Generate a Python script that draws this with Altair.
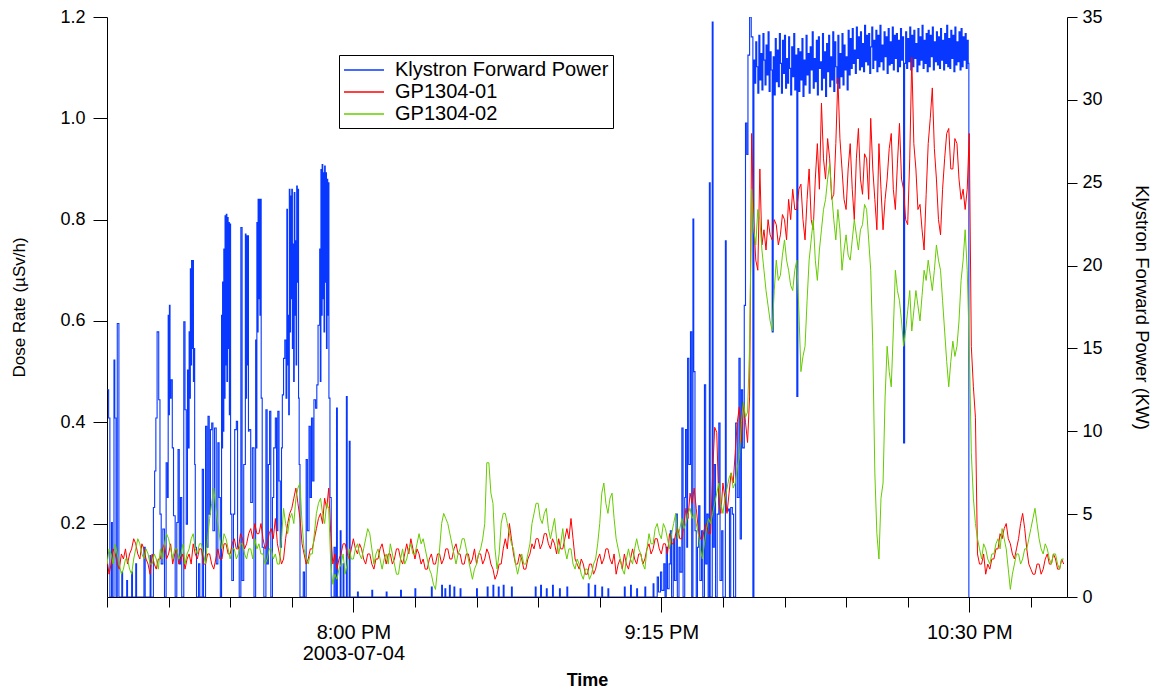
import altair as alt
import pandas as pd

# ---------------- data (time = minutes after 7:00 PM, 2003-07-04) ----------------
SERIES = ["Klystron Forward Power", "GP1304-01", "GP1304-02"]
COLORS = ["#0838FF", "#FF0000", "#66CC00"]

# dose-rate readings every half minute, 0 .. 233 min
DOSE_STEP = 0.5

gp01 = [
    0.13, 0.10, 0.12, 0.15, 0.14, 0.12, 0.11, 0.14, 0.13, 0.15, 0.12, 0.14, 0.15, 0.17, 0.16, 0.14, 0.13, 0.16, 0.15, 0.13,
    0.12, 0.10, 0.14, 0.12, 0.11, 0.13, 0.13, 0.15, 0.16, 0.13, 0.14, 0.16, 0.12, 0.14, 0.15, 0.12, 0.13, 0.14, 0.11, 0.13,
    0.14, 0.12, 0.16, 0.14, 0.13, 0.15, 0.15, 0.12, 0.12, 0.14, 0.14, 0.12, 0.11, 0.13, 0.15, 0.13, 0.13, 0.16, 0.16, 0.14,
    0.14, 0.16, 0.17, 0.15, 0.15, 0.18, 0.17, 0.15, 0.16, 0.18, 0.19, 0.17, 0.20, 0.18, 0.18, 0.20, 0.17, 0.15, 0.16, 0.18,
    0.19, 0.17, 0.21, 0.16, 0.14, 0.12, 0.13, 0.17, 0.20, 0.22, 0.23, 0.25, 0.27, 0.24, 0.21, 0.16, 0.14, 0.12, 0.13, 0.15,
    0.15, 0.17, 0.19, 0.21, 0.22, 0.20, 0.25, 0.23, 0.27, 0.18, 0.12, 0.14, 0.11, 0.13, 0.14, 0.16, 0.16, 0.14, 0.13, 0.15,
    0.17, 0.15, 0.14, 0.16, 0.15, 0.13, 0.12, 0.14, 0.14, 0.12, 0.11, 0.13, 0.13, 0.15, 0.16, 0.14, 0.12, 0.14, 0.14, 0.12,
    0.13, 0.15, 0.15, 0.13, 0.12, 0.14, 0.16, 0.14, 0.17, 0.15, 0.13, 0.15, 0.14, 0.12, 0.13, 0.11, 0.11, 0.13, 0.14, 0.12,
    0.12, 0.14, 0.14, 0.12, 0.13, 0.15, 0.15, 0.13, 0.13, 0.15, 0.16, 0.14, 0.14, 0.12, 0.12, 0.14, 0.14, 0.12, 0.13, 0.15,
    0.12, 0.14, 0.14, 0.12, 0.13, 0.15, 0.14, 0.12, 0.11, 0.09, 0.10, 0.12, 0.12, 0.15, 0.17, 0.15, 0.20, 0.17, 0.14, 0.12,
    0.12, 0.14, 0.13, 0.11, 0.11, 0.13, 0.14, 0.16, 0.15, 0.17, 0.17, 0.15, 0.16, 0.18, 0.18, 0.16, 0.15, 0.17, 0.16, 0.14,
    0.17, 0.15, 0.15, 0.17, 0.19, 0.17, 0.21, 0.17, 0.13, 0.12, 0.11, 0.13, 0.12, 0.10, 0.10, 0.12, 0.12, 0.10, 0.11, 0.13,
    0.14, 0.12, 0.13, 0.15, 0.15, 0.13, 0.12, 0.14, 0.10, 0.12, 0.13, 0.11, 0.14, 0.12, 0.11, 0.13, 0.15, 0.13, 0.12, 0.14,
    0.14, 0.12, 0.13, 0.15, 0.16, 0.14, 0.15, 0.17, 0.17, 0.15, 0.14, 0.16, 0.16, 0.14, 0.18, 0.16, 0.16, 0.18, 0.19, 0.17,
    0.17, 0.20, 0.23, 0.21, 0.26, 0.24, 0.27, 0.23, 0.19, 0.17, 0.17, 0.19, 0.20, 0.18, 0.18, 0.30, 0.39, 0.38, 0.24, 0.22,
    0.28, 0.25, 0.22, 0.26, 0.30, 0.28, 0.34, 0.40, 0.43, 0.36, 0.44, 0.40, 0.36, 0.45, 0.97, 0.80, 0.72, 0.70, 0.90, 0.75,
    0.78, 0.74, 0.80, 0.77, 0.76, 0.80, 0.79, 0.75, 0.77, 0.81, 0.80, 0.76, 0.84, 0.80, 0.86, 0.82, 0.82, 0.86, 0.87, 0.80,
    0.76, 0.84, 0.90, 0.80, 0.78, 0.88, 0.95, 0.86, 1.03, 0.92, 0.88, 0.96, 0.92, 0.84, 0.85, 0.95, 1.08, 0.96, 0.90, 0.84,
    0.82, 0.90, 0.95, 0.86, 0.80, 0.92, 0.98, 0.88, 0.85, 0.93, 0.92, 0.84, 1.00, 0.90, 0.84, 0.78, 0.95, 0.86, 0.78, 0.84,
    0.88, 0.94, 0.97, 0.86, 0.82, 0.91, 0.99, 0.88, 0.86, 0.80, 0.79, 0.92, 1.12, 0.95, 0.90, 0.82, 0.83, 0.78, 0.74, 0.85,
    0.95, 1.00, 1.06, 0.94, 0.88, 0.80, 0.77, 0.86, 0.92, 0.97, 0.98, 0.90, 0.90, 0.96, 0.95, 0.88, 0.84, 0.86, 0.82, 0.86,
    0.97, 0.55, 0.47, 0.41, 0.14, 0.12, 0.12, 0.14, 0.10, 0.12, 0.11, 0.13, 0.13, 0.15, 0.15, 0.18, 0.17, 0.19, 0.20, 0.17,
    0.16, 0.14, 0.13, 0.15, 0.17, 0.20, 0.22, 0.19, 0.15, 0.12, 0.11, 0.10, 0.10, 0.12, 0.12, 0.10, 0.11, 0.13, 0.14, 0.12,
    0.12, 0.14, 0.13, 0.11, 0.11, 0.13, 0.12,
]

gp02 = [
    0.12, 0.15, 0.14, 0.12, 0.16, 0.14, 0.12, 0.10, 0.11, 0.13, 0.13, 0.11, 0.10, 0.13, 0.15, 0.17, 0.16, 0.14, 0.13, 0.15,
    0.14, 0.12, 0.12, 0.14, 0.13, 0.11, 0.15, 0.13, 0.16, 0.18, 0.17, 0.15, 0.13, 0.15, 0.15, 0.13, 0.14, 0.16, 0.12, 0.14,
    0.15, 0.17, 0.18, 0.15, 0.14, 0.16, 0.16, 0.14, 0.12, 0.17, 0.21, 0.24, 0.27, 0.23, 0.20, 0.17, 0.15, 0.18, 0.17, 0.15,
    0.13, 0.15, 0.15, 0.13, 0.14, 0.16, 0.16, 0.14, 0.13, 0.15, 0.15, 0.13, 0.17, 0.15, 0.16, 0.14, 0.14, 0.12, 0.13, 0.15,
    0.15, 0.13, 0.14, 0.12, 0.12, 0.17, 0.23, 0.20, 0.18, 0.21, 0.22, 0.20, 0.25, 0.27, 0.28, 0.20, 0.15, 0.13, 0.12, 0.14,
    0.14, 0.18, 0.22, 0.24, 0.25, 0.22, 0.20, 0.24, 0.23, 0.12, 0.08, 0.10, 0.09, 0.11, 0.12, 0.14, 0.10, 0.12, 0.15, 0.13,
    0.13, 0.15, 0.16, 0.14, 0.13, 0.15, 0.17, 0.19, 0.18, 0.15, 0.12, 0.14, 0.15, 0.13, 0.11, 0.13, 0.14, 0.12, 0.16, 0.14,
    0.12, 0.10, 0.10, 0.13, 0.15, 0.12, 0.13, 0.15, 0.16, 0.14, 0.14, 0.16, 0.18, 0.16, 0.17, 0.15, 0.13, 0.11, 0.10, 0.08,
    0.07, 0.11, 0.15, 0.20, 0.22, 0.21, 0.20, 0.18, 0.16, 0.14, 0.12, 0.14, 0.15, 0.17, 0.17, 0.15, 0.13, 0.11, 0.09, 0.11,
    0.12, 0.14, 0.15, 0.17, 0.20, 0.32, 0.32, 0.26, 0.24, 0.15, 0.11, 0.14, 0.20, 0.22, 0.22, 0.20, 0.18, 0.16, 0.15, 0.12,
    0.10, 0.12, 0.14, 0.12, 0.12, 0.14, 0.16, 0.20, 0.22, 0.24, 0.24, 0.21, 0.20, 0.22, 0.23, 0.19, 0.17, 0.19, 0.21, 0.17,
    0.14, 0.16, 0.19, 0.15, 0.13, 0.15, 0.15, 0.12, 0.11, 0.13, 0.12, 0.10, 0.09, 0.11, 0.11, 0.09, 0.10, 0.12, 0.13, 0.16,
    0.20, 0.26, 0.28, 0.24, 0.22, 0.25, 0.26, 0.21, 0.17, 0.15, 0.13, 0.11, 0.10, 0.13, 0.15, 0.13, 0.12, 0.15, 0.17, 0.15,
    0.14, 0.12, 0.11, 0.15, 0.18, 0.16, 0.16, 0.19, 0.20, 0.18, 0.17, 0.20, 0.19, 0.17, 0.15, 0.18, 0.20, 0.22, 0.17, 0.19,
    0.21, 0.19, 0.20, 0.22, 0.23, 0.21, 0.22, 0.20, 0.18, 0.15, 0.13, 0.16, 0.19, 0.21, 0.20, 0.22, 0.24, 0.26, 0.28, 0.24,
    0.22, 0.25, 0.27, 0.29, 0.30, 0.27, 0.28, 0.31, 0.33, 0.40, 0.44, 0.41, 0.42, 0.55, 0.86, 0.78, 0.75, 0.82, 0.80, 0.74,
    0.70, 0.66, 0.63, 0.60, 0.58, 0.66, 0.72, 0.68, 0.69, 0.73, 0.76, 0.72, 0.70, 0.67, 0.66, 0.70, 0.72, 0.62, 0.50, 0.53,
    0.55, 0.64, 0.72, 0.76, 0.80, 0.72, 0.68, 0.74, 0.78, 0.82, 0.84, 0.88, 0.91, 0.85, 0.80, 0.76, 0.82, 0.78, 0.70, 0.74,
    0.77, 0.73, 0.72, 0.76, 0.80, 0.77, 0.74, 0.78, 0.79, 0.83, 0.82, 0.76, 0.70, 0.55, 0.30, 0.18, 0.13, 0.25, 0.28, 0.45,
    0.55, 0.50, 0.47, 0.58, 0.70, 0.66, 0.64, 0.60, 0.55, 0.58, 0.62, 0.66, 0.58, 0.62, 0.66, 0.63, 0.60, 0.65, 0.70, 0.68,
    0.72, 0.69, 0.66, 0.70, 0.75, 0.72, 0.70, 0.64, 0.58, 0.52, 0.47, 0.52, 0.56, 0.53, 0.55, 0.60, 0.68, 0.72, 0.78, 0.70,
    0.55, 0.34, 0.25, 0.20, 0.17, 0.15, 0.13, 0.16, 0.15, 0.13, 0.12, 0.14, 0.14, 0.16, 0.17, 0.15, 0.19, 0.17, 0.15, 0.11,
    0.07, 0.10, 0.12, 0.14, 0.14, 0.12, 0.13, 0.15, 0.15, 0.17, 0.19, 0.21, 0.23, 0.20, 0.17, 0.15, 0.14, 0.16, 0.15, 0.13,
    0.12, 0.14, 0.14, 0.12, 0.11, 0.13, 0.13,
]

# klystron forward power (kW): change points before full power, each held until the next time
kly_t = [
    0.1, 0.4, 0.7, 1.1, 1.3, 1.7, 1.9, 2.2, 2.5, 2.9, 3.6, 3.8, 4.8, 5.0, 6.0, 6.2, 7.0, 7.2, 9.0, 9.3, 10.5, 10.7,
    11.3, 11.6, 11.9, 12.2, 12.6, 12.9, 13.2, 13.6, 14.0, 14.4, 14.7, 14.9, 15.05, 15.2, 15.35, 15.6, 15.9, 16.2, 16.6,
    17.0, 17.3, 17.6, 17.9, 18.2, 18.7, 19.0, 19.3, 19.6, 19.8, 20.0, 20.15, 20.3, 20.45, 20.6, 20.75, 20.9, 21.05,
    21.2, 21.35, 21.5, 21.8, 22.3, 22.6, 23.2, 23.5, 24.0, 24.3, 24.6, 24.9, 25.2, 25.5, 25.8, 26.2, 26.6, 27.0,
    27.3, 27.6, 27.9, 28.0, 28.15, 28.3, 28.45, 28.6, 28.75, 28.9, 29.05, 29.2, 29.35, 29.5, 29.65, 29.8, 29.95,
    30.1, 30.4, 30.8, 31.1, 31.5, 31.8, 32.2, 32.6, 32.9, 33.3, 33.7, 33.85, 34.0, 34.15, 34.3, 34.45, 34.6, 35.0,
    35.4, 35.8, 36.2, 36.35, 36.5, 36.65, 36.8, 36.95, 37.1, 37.25, 37.4, 37.55, 37.8, 38.2,
    38.7, 39.0, 39.3, 39.6, 39.9, 40.3, 40.6, 41.0, 41.3, 41.6, 41.9, 42.2, 42.5, 42.7, 43.0, 43.3, 43.6,
    43.8, 43.95, 44.1, 44.25, 44.4, 44.55, 44.7, 44.85, 45.0, 45.15, 45.3, 45.45, 45.6, 45.75, 45.9, 46.05, 46.2,
    46.35, 46.5, 46.65, 46.8, 47.0, 47.8, 48.1, 48.5, 48.8, 49.2, 49.5, 49.8, 50.1, 50.4, 50.8, 51.1, 51.4,
    51.8, 51.95, 52.1, 52.25, 52.4, 52.55, 52.7, 52.85, 53.0, 53.15, 53.3, 53.45, 53.6, 53.75, 53.9, 54.05, 54.3,
    54.6, 55.3, 55.6, 55.9, 56.1, 56.8, 57.0, 57.5, 57.7, 58.3, 58.5, 59.0, 59.2,
    61.0, 61.2, 64.5, 64.7, 68.0, 68.2, 71.5, 71.7, 75.0, 75.2, 79.0, 79.2, 81.5, 81.7, 82.3, 82.5, 83.4, 83.6,
    84.5, 84.7, 86.0, 86.2, 90.0, 90.2, 92.6, 92.8, 94.0, 94.2, 95.3, 95.5, 96.5, 96.7, 98.5, 98.7, 104.3, 104.5,
    105.6, 105.8, 107.0, 107.2, 108.5, 108.7, 110.2, 110.4, 112.0, 112.2, 117.2, 117.4, 118.8, 119.0, 120.5, 120.7,
    122.0, 122.2, 126.0, 126.2, 127.5, 127.7, 129.0, 129.2, 131.0, 131.2, 133.0, 133.2, 134.0, 134.3, 134.8, 135.1,
    135.6, 135.9,
    136.2, 136.5, 136.9, 137.2, 137.5, 137.9, 138.2, 138.6, 138.9, 139.3, 139.6, 140.0, 140.3, 140.7, 140.9, 141.2,
    141.4, 141.7, 142.1, 142.4, 142.7, 142.9, 143.2, 143.5, 143.8, 144.1, 144.4, 144.8, 145.1, 145.5, 145.8, 146.1,
    146.4, 146.7, 146.9, 147.4, 147.6, 147.9, 148.2, 148.6, 149.0, 149.3, 149.7, 150.0, 150.6, 150.8, 151.3, 151.6,
    151.9, 152.3, 152.6, 153.1, 153.5, 153.9, 154.2, 154.5, 154.8, 155.2, 155.5, 155.8, 156.1, 156.5, 156.9, 157.3,
    157.55,
]

kly_kw = [
    12.5, 10.8, 0, 4.5, 0, 14.3, 10.8, 0, 16.5, 0, 1.5, 0, 1.0, 0, 1.5, 0, 2.0, 0, 3.0, 0, 2.5, 0,
    5.4, 7.6, 10.8, 16.0, 11.9, 5.0, 2.0, 4.1, 0, 8.1, 6.0, 17.0, 11.0, 17.6, 12.0, 13.1, 9.0, 4.9, 0,
    4.5, 8.9, 2.0, 6.0, 0, 16.6, 11.3, 4.4, 13.7, 9.0, 16.0, 12.0, 19.8, 14.0, 20.3, 15.0, 20.3, 13.0,
    15.0, 8.0, 3.0, 0, 2.0, 0, 7.7, 0, 10.3, 3.0, 10.9, 5.0, 10.1, 10.5, 4.0, 10.2, 2.0, 9.3,
    6.0, 0, 17.0, 9.0, 19.0, 10.0, 21.0, 12.0, 23.0, 14.0, 23.1, 13.0, 22.9, 15.0, 22.6, 11.0, 22.5,
    5.0, 1.0, 5.0, 10.1, 10.6, 3.0, 0, 22.3, 1.0, 8.0, 21.9, 12.0, 21.8, 14.0, 21.8, 10.0, 10.1, 5.7,
    9.0, 0, 15.5, 9.0, 22.6, 16.0, 24.0, 18.0, 24.0, 17.0, 24.0, 12.0, 3.0, 0,
    11.3, 2.0, 8.0, 11.2, 0, 6.0, 9.0, 10.8, 4.0, 11.2, 7.0, 3.0, 9.0, 12.2, 14.4, 15.5, 12.0,
    23.4, 14.0, 17.0, 11.0, 24.6, 16.0, 24.2, 18.0, 24.6, 15.0, 21.3, 13.0, 24.4, 17.0, 21.5, 14.0, 24.8,
    19.0, 24.6, 12.0, 8.0, 0, 1.5, 0, 8.3, 4.0, 10.3, 6.0, 10.8, 7.0, 11.9, 11.4, 12.8, 16.4,
    21.0, 13.0, 25.8, 17.0, 26.1, 18.0, 25.6, 16.0, 26.0, 19.0, 25.6, 15.0, 25.2, 17.0, 25.0, 12.0, 6.0,
    0, 3.0, 0, 11.4, 0, 4.0, 0, 2.0, 0, 12.1, 0, 9.4, 0,
    0.3, 0, 0.4, 0, 0.3, 0, 0.4, 0, 0.5, 0, 0.6, 0, 0.7, 0, 0.5, 0, 0.7, 0,
    0.6, 0, 0.5, 0, 0.5, 0, 0.6, 0, 0.7, 0, 0.6, 0, 0.7, 0, 0.6, 0, 0.6, 0,
    0.7, 0, 0.5, 0, 0.7, 0, 0.5, 0, 0.6, 0, 0.8, 0, 0.7, 0, 0.6, 0,
    0.5, 0, 0.6, 0, 0.7, 0, 0.5, 0, 0.6, 0, 0.8, 0, 1.2, 0.3, 1.5, 0.4,
    2.0, 0,
    3.0, 0.5, 2.0, 4.0, 0, 3.5, 1.0, 5.0, 0, 3.0, 1.5, 10.2, 0, 6.0, 10.1, 3.0,
    14.4, 8.0, 16.0, 0, 22.8, 13.6, 4.0, 0, 3.0, 5.5, 1.0, 4.0, 0, 12.8, 2.0, 5.0,
    0, 25.0, 0, 34.7, 3.0, 8.0, 0, 5.0, 10.5, 1.0, 4.0, 0, 21.5, 5.2, 5.3, 0,
    5.4, 5.0, 0, 10.5, 6.0, 14.4, 3.5, 12.5, 9.0, 17.6, 28.6, 26.7, 32.7, 35.0, 33.8, 0,
    32.4,
]

# full-power period: readings every quarter minute from 157.75 min
PLATEAU_START = 157.75
PLATEAU_STEP = 0.25
kly_full = [
    31.0,
    33.5, 32.0, 30.4, 33.9, 31.2, 32.8, 30.6, 34.0, 32.4, 30.9, 33.3, 31.5, 34.1, 30.5, 32.9, 31.8,
    16.0, 32.6, 30.3, 33.7, 31.1, 33.0, 30.8, 34.0, 32.2, 30.4, 33.6, 31.6, 33.9, 30.7, 32.5, 31.0,
    33.8, 31.9, 30.3, 33.2, 31.4, 34.0, 30.6, 32.7, 12.1, 33.1, 30.5, 32.9, 31.2, 33.7, 30.2, 32.4,
    30.9, 33.9, 31.5, 32.8, 30.4, 33.2, 31.8, 34.1, 30.7, 32.5, 31.1, 33.6, 30.3, 33.8, 31.9, 32.3,
    30.6, 34.0, 31.3, 32.9, 30.2, 33.4, 31.7, 33.9, 30.8, 32.6, 31.2, 34.1, 30.5, 33.5, 32.0, 31.0,
    33.9, 30.7, 32.8, 31.4, 34.0, 30.9, 33.3, 31.8, 32.6, 30.6, 34.2, 31.5, 33.7, 31.9, 34.3, 32.2,
    33.0, 31.6, 34.4, 32.5, 33.8, 31.8, 34.1, 32.0, 33.4, 31.7, 34.5, 32.3, 33.9, 32.1, 34.0, 31.6,
    33.2, 34.4, 31.9, 33.6, 32.4, 34.2, 31.7, 33.9, 32.0, 34.5, 32.3, 33.3, 31.8, 34.1, 32.6, 33.8,
    31.6, 34.3, 32.1, 33.5, 32.2, 34.4, 31.8, 33.9, 32.5, 34.0, 31.7, 33.6, 32.0, 34.3, 32.4, 33.8,
    9.3, 32.2, 34.1, 31.9, 33.7, 32.3, 34.4, 31.8, 33.9, 32.0, 34.2, 32.5, 33.4, 31.7, 34.3, 32.1,
    33.8, 32.4, 34.5, 31.9, 33.6, 32.2, 34.0, 31.7, 34.2, 32.0, 33.9, 32.6, 34.4, 31.8, 33.5, 32.3,
    34.1, 32.1, 33.8, 31.9, 34.3, 32.4, 33.6, 31.8, 34.0, 32.2, 34.5, 32.0, 33.7, 31.9, 34.2, 32.5,
    33.9, 31.7, 34.4, 32.1, 33.5, 32.3, 34.1, 31.8, 34.3, 32.0, 33.8, 32.4, 34.0, 31.9, 33.6, 32.2,
]
KLY_OFF_T = 209.9  # beam switched off

# ---------------- tables ----------------
n_dose = len(gp01)
dose_t = [i * DOSE_STEP for i in range(n_dose)]
dose_df = pd.DataFrame(
    {
        "t": dose_t + dose_t,
        "dose": gp01 + gp02,
        "series": [SERIES[1]] * n_dose + [SERIES[2]] * n_dose,
    }
)

full_t = [PLATEAU_START + i * PLATEAU_STEP for i in range(len(kly_full))]
all_t = kly_t + full_t + [KLY_OFF_T]
all_kw = kly_kw + kly_full + [0.0]
kly_df = pd.DataFrame(
    {"t": all_t, "kw": all_kw, "series": SERIES[0], "i": list(range(len(all_t)))}
)

FONT = "Liberation Sans"
X_DOMAIN = [0, 233.8]
x_ticks = list(range(0, 234, 15))

x_enc = alt.X(
    "t:Q",
    scale=alt.Scale(domain=X_DOMAIN, nice=False, zero=False),
    axis=alt.Axis(
        values=x_ticks,
        title="Time",
        titleFont=FONT,
        titleFontSize=18,
        titleFontWeight="bold",
        titlePadding=8,
        labelFont=FONT,
        labelFontSize=20,
        labelColor="black",
        labelOverlap=False,
        labelFlush=False,
        labelPadding=10,
        labelLineHeight=21,
        labelExpr="datum.value == 60 ? ['8:00 PM', '2003-07-04'] : datum.value == 135 ? '9:15 PM' : datum.value == 210 ? '10:30 PM' : ''",
        tickSize={"condition": {"test": "datum.value % 75 == 60", "value": 15}, "value": 10},
        tickColor="black",
        domainColor="black",
        grid=False,
    ),
)

color_enc = alt.Color(
    "series:N",
    scale=alt.Scale(domain=SERIES, range=COLORS),
    legend=alt.Legend(
        title=None,
        orient="none",
        legendX=232,
        legendY=38,
        fillColor="white",
        strokeColor="black",
        padding=4,
        symbolType="M-2,0H2",
        symbolSize=400,
        symbolStrokeWidth=1.5,
        symbolOffset=10,
        labelFont=FONT,
        labelFontSize=20,
        labelColor="black",
        labelOffset=20,
        rowPadding=1,
        labelLimit=400,
    ),
)

blue = (
    alt.Chart(kly_df)
    .mark_line(interpolate="step-after", strokeWidth=1.1, clip=True)
    .encode(
        x=x_enc,
        y=alt.Y(
            "kw:Q",
            scale=alt.Scale(domain=[0, 35], nice=False),
            axis=alt.Axis(
                orient="right",
                values=list(range(0, 36, 5)),
                title="Klystron Forward Power  (KW)",
                titleFont=FONT,
                titleFontSize=18.5,
                titleFontWeight="normal",
                titlePadding=29,
                labelFont=FONT,
                labelFontSize=18,
                labelColor="black",
                labelFlush=False,
                labelPadding=5,
                tickSize=10,
                tickColor="black",
                domainColor="black",
                grid=False,
            ),
        ),
        color=color_enc,
        order="i:Q",
    )
)

dose = (
    alt.Chart(dose_df)
    .mark_line(strokeWidth=1, clip=True)
    .encode(
        x=x_enc,
        y=alt.Y(
            "dose:Q",
            scale=alt.Scale(domain=[0.055, 1.2], nice=False, zero=False),
            axis=alt.Axis(
                orient="left",
                values=[0.2, 0.4, 0.6, 0.8, 1.0, 1.2],
                format=".1f",
                title="Dose Rate (µSv/h)",
                titleFont=FONT,
                titleFontSize=17,
                titleFontWeight="normal",
                titlePadding=31,
                labelFont=FONT,
                labelFontSize=18,
                labelColor="black",
                labelFlush=False,
                labelPadding=8,
                tickSize=14,
                tickColor="black",
                domainColor="black",
                grid=False,
            ),
        ),
        color=color_enc,
    )
)

chart = (
    alt.layer(blue, dose)
    .resolve_scale(y="independent")
    .properties(
        width=960,
        height=580,
        autosize=alt.AutoSizeParams(type="none"),
        padding={"left": 107, "top": 17, "right": 91, "bottom": 93},
        background="white",
    )
    .configure_view(stroke=None)
)

chart.save("out.html", embed_options={"renderer": "svg", "actions": False})
